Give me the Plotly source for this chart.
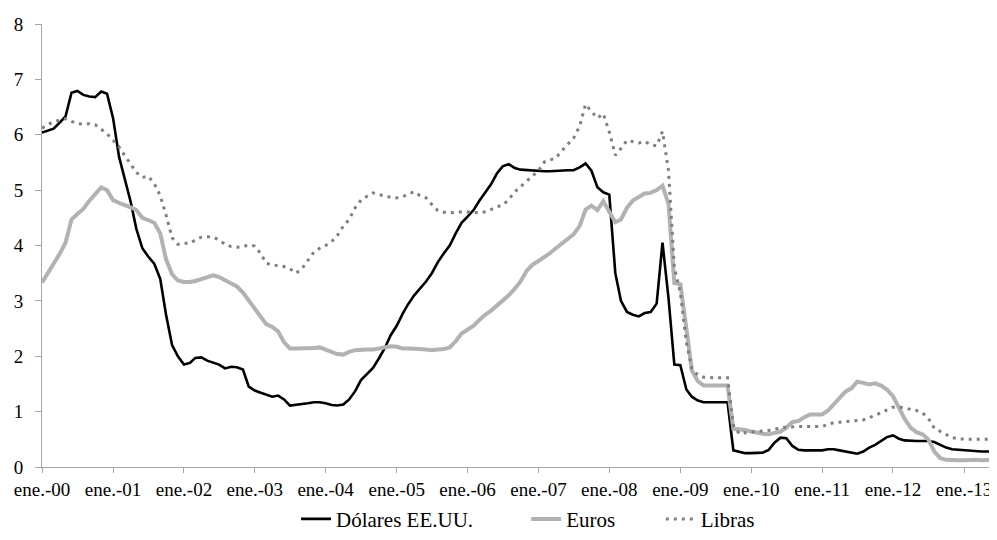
import pandas as pd
import plotly.graph_objects as go

# Monthly series, Jan 2000 - Jun 2013 (one row per year)
dolares = [
    6.04, 6.07, 6.11, 6.22, 6.33, 6.76, 6.79, 6.72, 6.69, 6.68, 6.78, 6.74,
    6.30, 5.60, 5.22, 4.80, 4.30, 3.95, 3.80, 3.67, 3.40, 2.75, 2.20, 2.00,
    1.85, 1.88, 1.97, 1.98, 1.92, 1.88, 1.85, 1.78, 1.81, 1.80, 1.76, 1.45,
    1.38, 1.34, 1.30, 1.27, 1.29, 1.22, 1.11, 1.12, 1.14, 1.15, 1.17, 1.17,
    1.15, 1.12, 1.11, 1.13, 1.22, 1.37, 1.57, 1.69, 1.79, 1.96, 2.15, 2.38,
    2.55, 2.77, 2.94, 3.10, 3.22, 3.35, 3.50, 3.70, 3.86, 4.00, 4.22, 4.41,
    4.52, 4.64, 4.80, 4.96, 5.10, 5.30, 5.43, 5.47, 5.40, 5.37, 5.36, 5.36,
    5.35, 5.34, 5.34, 5.35, 5.36, 5.36, 5.36, 5.41, 5.48, 5.35, 5.05, 4.96,
    4.92, 3.50, 3.00, 2.80, 2.75, 2.72, 2.78, 2.80, 2.95, 4.05, 3.05, 1.85,
    1.84, 1.40, 1.27, 1.20, 1.17, 1.17, 1.17, 1.17, 1.17, 0.30, 0.27, 0.25,
    0.25, 0.25, 0.26, 0.31, 0.44, 0.53, 0.52, 0.38, 0.31, 0.30, 0.30, 0.30,
    0.30, 0.32, 0.32, 0.30, 0.28, 0.26, 0.24, 0.28, 0.35, 0.40, 0.47, 0.54,
    0.57, 0.51, 0.48, 0.47, 0.47, 0.47, 0.47, 0.45, 0.40, 0.35, 0.32, 0.31,
    0.30, 0.29, 0.28, 0.28, 0.28, 0.28,
]

euros = [
    3.33, 3.50, 3.68, 3.85, 4.05, 4.47, 4.57, 4.66, 4.81, 4.94, 5.05, 5.00,
    4.82, 4.77, 4.74, 4.69, 4.64, 4.50, 4.46, 4.41, 4.22, 3.75, 3.48, 3.37,
    3.34, 3.34, 3.36, 3.39, 3.42, 3.46, 3.43, 3.37, 3.32, 3.26, 3.15, 3.00,
    2.85, 2.72, 2.58, 2.53, 2.45, 2.25, 2.14, 2.14, 2.14, 2.14, 2.15, 2.16,
    2.12, 2.08, 2.04, 2.03, 2.08, 2.11, 2.12, 2.12, 2.12, 2.14, 2.17, 2.18,
    2.17, 2.14, 2.14, 2.14, 2.13, 2.12, 2.11, 2.12, 2.13, 2.16, 2.27, 2.41,
    2.49, 2.55, 2.65, 2.75, 2.82, 2.91, 3.00, 3.10, 3.22, 3.35, 3.54, 3.65,
    3.72, 3.79, 3.86, 3.95, 4.03, 4.11, 4.20, 4.35, 4.65, 4.72, 4.64, 4.80,
    4.62, 4.42, 4.47, 4.68, 4.81, 4.88, 4.94, 4.95, 5.00, 5.08, 4.75, 3.32,
    3.30, 2.50, 1.75, 1.55, 1.47, 1.47, 1.47, 1.47, 1.47, 0.69, 0.68, 0.67,
    0.64, 0.61, 0.60, 0.59, 0.61, 0.64, 0.71, 0.81, 0.83, 0.90, 0.95, 0.95,
    0.95, 1.02, 1.12, 1.25, 1.36, 1.42, 1.54, 1.52, 1.49, 1.51, 1.47, 1.40,
    1.28, 1.07, 0.87, 0.71, 0.63, 0.59, 0.50, 0.28, 0.16, 0.13, 0.12, 0.12,
    0.12, 0.13, 0.13, 0.12, 0.12, 0.13,
]

libras = [
    6.12, 6.18, 6.24, 6.26, 6.29, 6.24, 6.20, 6.19, 6.20, 6.18, 6.10, 6.02,
    5.90, 5.78, 5.63, 5.48, 5.32, 5.23, 5.25, 5.12, 4.90, 4.55, 4.14, 4.02,
    4.04, 4.04, 4.10, 4.15, 4.16, 4.15, 4.10, 4.02, 3.98, 3.97, 3.98, 4.01,
    3.99, 3.85, 3.68, 3.65, 3.63, 3.62, 3.58, 3.50, 3.58, 3.73, 3.88, 3.95,
    4.00, 4.07, 4.18, 4.35, 4.47, 4.68, 4.82, 4.89, 4.95, 4.92, 4.89, 4.87,
    4.86, 4.88, 4.93, 4.97, 4.90, 4.86, 4.74, 4.63, 4.60, 4.59, 4.59, 4.61,
    4.61, 4.60, 4.59, 4.61, 4.65, 4.70, 4.73, 4.83, 4.97, 5.06, 5.16, 5.25,
    5.35, 5.51, 5.55, 5.58, 5.71, 5.82, 5.94, 6.15, 6.55, 6.42, 6.30, 6.38,
    6.05, 5.63, 5.75, 5.90, 5.88, 5.85, 5.88, 5.82, 5.80, 6.06, 5.35, 3.60,
    3.15, 2.25, 1.78, 1.66, 1.62, 1.61, 1.61, 1.61, 1.61, 0.75, 0.60, 0.62,
    0.63, 0.63, 0.65, 0.66, 0.68, 0.71, 0.72, 0.73, 0.73, 0.73, 0.73, 0.73,
    0.73, 0.77, 0.80, 0.81, 0.82, 0.83, 0.83, 0.85, 0.89, 0.93, 0.98, 1.03,
    1.08, 1.08, 1.07, 1.04, 1.02, 0.98, 0.88, 0.70, 0.64, 0.58, 0.53, 0.51,
    0.50, 0.50, 0.50, 0.50, 0.50, 0.50,
]

tick_years = list(range(2000, 2014))
tick_labels = ["ene.-%02d" % (y % 100) for y in tick_years]
y_ticks = list(range(0, 9))

months = pd.date_range("2000-01-01", periods=len(dolares), freq="MS")
tick_dates = [pd.Timestamp(year=y, month=1, day=1) for y in tick_years]

FONT = "Liberation Serif"
AXIS = "#a6a6a6"

fig = go.Figure()
fig.add_trace(go.Scatter(x=months, y=dolares, mode="lines", name="Dólares EE.UU.",
                         legend="legend",
                         line=dict(color="#000000", width=2.6)))
fig.add_trace(go.Scatter(x=months, y=euros, mode="lines", name="Euros",
                         legend="legend2",
                         line=dict(color="#b2b2b2", width=4)))
fig.add_trace(go.Scatter(x=months, y=libras, mode="lines", name="Libras",
                         legend="legend3",
                         line=dict(color="#7f7f7f", width=3, dash="3px,5px")))

leg_common = dict(orientation="h", xanchor="left", y=-0.118, yanchor="middle",
                  font=dict(family=FONT, size=21, color="black"),
                  bgcolor="rgba(0,0,0,0)", borderwidth=0)

# The page body has an 8px margin, so the figure is offset by (8, 8)
fig.update_layout(
    width=989, height=532,
    margin=dict(l=34, r=0, t=16, b=73, autoexpand=False),
    paper_bgcolor="white", plot_bgcolor="white",
    font=dict(family=FONT, size=19, color="black"),
    showlegend=True,
    legend=dict(x=0.266, **leg_common),
    legend2=dict(x=0.507, **leg_common),
    legend3=dict(x=0.648, **leg_common),
    xaxis=dict(
        type="date", automargin=False,
        range=[pd.Timestamp("2000-01-01"), pd.Timestamp("2013-06-20")],
        tickvals=tick_dates, ticktext=tick_labels,
        showgrid=False, zeroline=False,
        showline=True, linecolor=AXIS, linewidth=1,
        ticks="outside", ticklen=5, tickcolor=AXIS, tickwidth=1,
        tickfont=dict(family=FONT, size=19, color="black"),
    ),
    yaxis=dict(
        range=[0, 8], tickvals=y_ticks, ticktext=[str(v) for v in y_ticks],
        automargin=False,
        showgrid=False, zeroline=False,
        showline=True, linecolor=AXIS, linewidth=1,
        ticks="outside", ticklen=6, tickcolor=AXIS, tickwidth=1,
        ticklabelstandoff=8,
        tickfont=dict(family=FONT, size=19, color="black"),
    ),
)

fig.write_html("out.html")
